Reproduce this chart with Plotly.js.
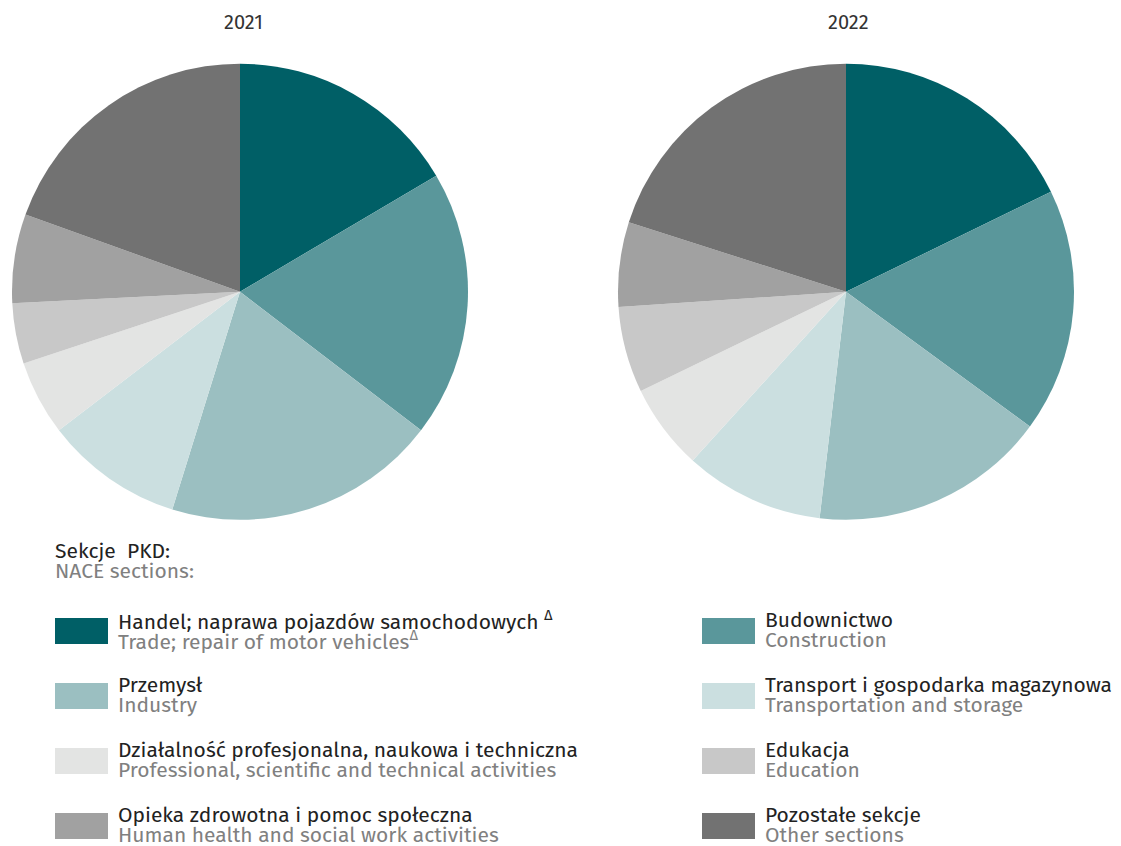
<!DOCTYPE html>
<html>
<head>
<meta charset="utf-8">
<script src="https://cdn.plot.ly/plotly-3.0.1.min.js"></script>
<style>html,body{margin:0;padding:0;background:#fff;}#chart{width:1121px;height:846px;}</style>
</head>
<body>
<div id="chart"></div>
<script>
const W = 1121, H = 846;
const years = ["2021", "2022"];
const labelsPL = [
  "Handel; naprawa pojazdów samochodowych <sup>Δ</sup>",
  "Budownictwo",
  "Przemysł",
  "Transport i gospodarka magazynowa",
  "Działalność profesjonalna, naukowa i techniczna",
  "Edukacja",
  "Opieka zdrowotna i pomoc społeczna",
  "Pozostałe sekcje"
];
const labelsEN = [
  "Trade; repair of motor vehicles<sup>Δ</sup>",
  "Construction",
  "Industry",
  "Transportation and storage",
  "Professional, scientific and technical activities",
  "Education",
  "Human health and social work activities",
  "Other sections"
];
const colors = ["#005f66", "#5a979b", "#9bbfc1", "#cbdfe0", "#e3e4e3", "#c8c8c8", "#a1a1a1", "#727272"];
const values2021 = [16.5, 18.9, 19.4, 9.8, 5.3, 4.3, 6.3, 19.5];
const values2022 = [17.8, 17.3, 16.8, 9.9, 6.1, 6.1, 6.0, 20.1];

const FONT = "Fira Sans, Noto Sans, sans-serif";
const px = x => x / W;
const py = y => 1 - y / H;

const R = 228, CY = 291.7;
const centersX = [240, 846];
const vals = [values2021, values2022];

const data = vals.map((v, i) => ({
  type: "pie",
  values: v,
  labels: labelsEN,
  sort: false,
  direction: "clockwise",
  rotation: 0,
  textinfo: "none",
  hoverinfo: "label+value",
  marker: {colors: colors, line: {width: 0}},
  domain: {x: [px(centersX[i] - R), px(centersX[i] + R)], y: [py(CY + R), py(CY - R)]},
  showlegend: false
}));

const FS = 21;
const annotations = [];
const shapes = [];
[243, 848].forEach((x, i) => {
  annotations.push({xref: "paper", yref: "paper", x: px(x), y: py(22), text: years[i],
    showarrow: false, xanchor: "center", yanchor: "middle", font: {family: FONT, size: 20, color: "#333"}});
});
annotations.push({xref: "paper", yref: "paper", x: px(53), y: py(551), text: "Sekcje  PKD:",
  showarrow: false, xanchor: "left", yanchor: "middle", font: {family: FONT, size: FS, color: "#222"}});
annotations.push({xref: "paper", yref: "paper", x: px(53), y: py(571), text: "NACE sections:",
  showarrow: false, xanchor: "left", yanchor: "middle", font: {family: FONT, size: FS, color: "#808080"}});

const rowTops = [618, 683, 748, 813];
labelsPL.forEach((pl, i) => {
  const col = i % 2, row = Math.floor(i / 2);
  const sx = col === 0 ? 55 : 702;
  const top = rowTops[row];
  shapes.push({type: "rect", xref: "paper", yref: "paper", x0: px(sx), x1: px(sx + 53),
    y0: py(top + 26), y1: py(top), fillcolor: colors[i], line: {width: 0}});
  annotations.push({xref: "paper", yref: "paper", x: px(sx + 61), y: py(top + 2), text: pl,
    showarrow: false, xanchor: "left", yanchor: "middle", font: {family: FONT, size: FS, color: "#222"}});
  annotations.push({xref: "paper", yref: "paper", x: px(sx + 61), y: py(top + 22), text: labelsEN[i],
    showarrow: false, xanchor: "left", yanchor: "middle", font: {family: FONT, size: FS, color: "#808080"}});
});

const layout = {
  width: W, height: H,
  margin: {l: 0, r: 0, t: 0, b: 0},
  paper_bgcolor: "#ffffff",
  plot_bgcolor: "#ffffff",
  showlegend: false,
  annotations: annotations,
  shapes: shapes
};
Plotly.newPlot("chart", data, layout, {displayModeBar: false, staticPlot: true});
</script>
</body>
</html>
